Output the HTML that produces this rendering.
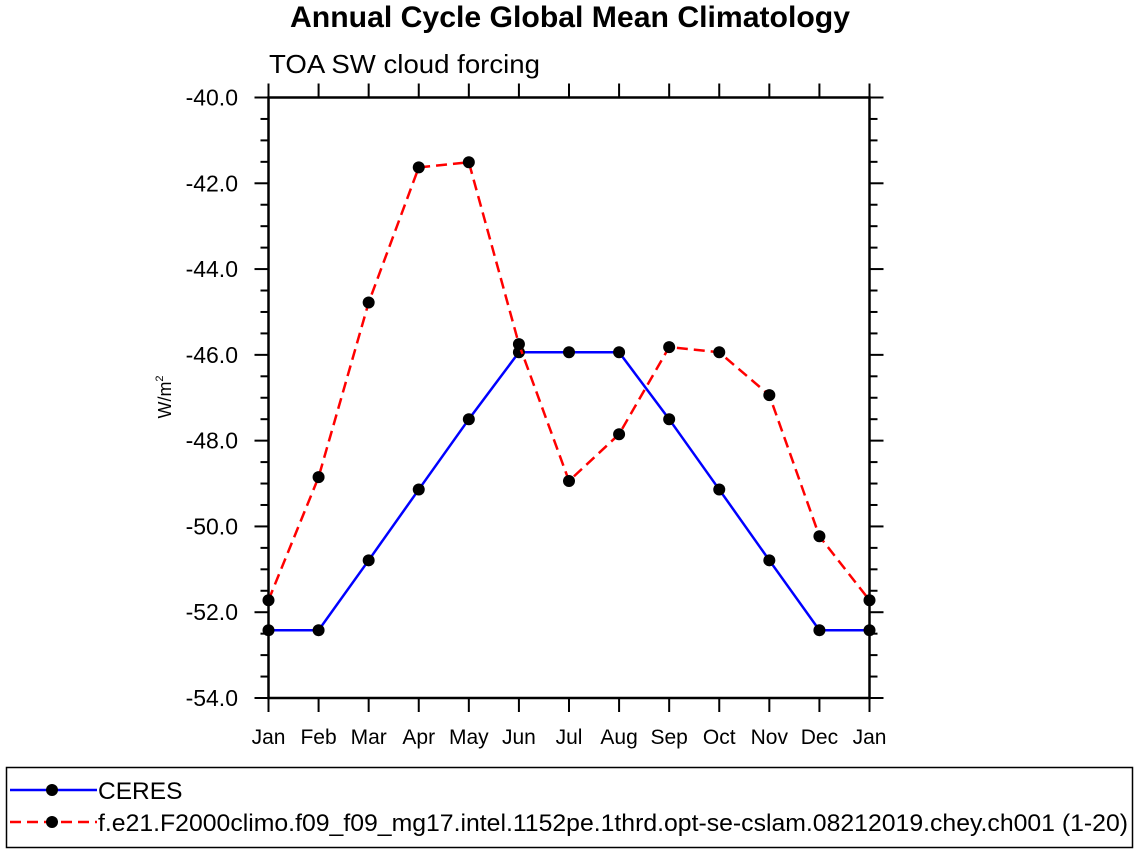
<!DOCTYPE html>
<html><head><meta charset="utf-8"><style>
body{margin:0;background:#fff;}
svg text{font-family:"Liberation Sans",sans-serif;fill:#000;}
</style></head><body>
<svg id="chart" width="1138" height="854" xmlns="http://www.w3.org/2000/svg">
<text x="570" y="27" font-size="30" font-weight="bold" text-anchor="middle" textLength="560" lengthAdjust="spacingAndGlyphs">Annual Cycle Global Mean Climatology</text>
<text x="269" y="73" font-size="26" textLength="271" lengthAdjust="spacingAndGlyphs">TOA SW cloud forcing</text>
<text transform="translate(171,397) rotate(-90)" font-size="18" text-anchor="middle">W/m<tspan font-size="11" dy="-8">2</tspan></text>
<g id="axes"></g>
<g id="series"></g>
<g>
<rect x="6.5" y="767.5" width="1126" height="80" fill="none" stroke="#000" stroke-width="1.5"/>
<g>
<line x1="10" y1="790" x2="97" y2="790" stroke="#0000ff" stroke-width="2.5"/>
<circle cx="52" cy="790" r="6" fill="#000"/>
<text x="98" y="799" font-size="24.5">CERES</text>
</g>
<g>
<line x1="10" y1="822" x2="97" y2="822" stroke="#ff0000" stroke-width="2.5" stroke-dasharray="11,6"/>
<circle cx="52" cy="822" r="6" fill="#000"/>
<text x="98" y="831" font-size="24.5" textLength="1030" lengthAdjust="spacingAndGlyphs">f.e21.F2000climo.f09_f09_mg17.intel.1152pe.1thrd.opt-se-cslam.08212019.chey.ch001 (1-20)</text>
</g>
</g>
</svg>
<script>
const months = ["Jan","Feb","Mar","Apr","May","Jun","Jul","Aug","Sep","Oct","Nov","Dec","Jan"];
const ceres = [-52.42,-52.42,-50.79,-49.14,-47.5,-45.94,-45.94,-45.94,-47.5,-49.14,-50.79,-52.42,-52.42];
const model = [-51.72,-48.85,-44.78,-41.63,-41.51,-45.75,-48.94,-47.85,-45.82,-45.94,-46.94,-50.23,-51.72];
const yTicks = [-40,-42,-44,-46,-48,-50,-52,-54];
const yTickLabels = ["-40.0","-42.0","-44.0","-46.0","-48.0","-50.0","-52.0","-54.0"];
const NS="http://www.w3.org/2000/svg";
const L=268.5,R=869.5,T=97.5,B=698,yMin=-54,yMax=-40;
const xs=i=>L+(R-L)*i/(months.length-1);
const ys=v=>T+(yMax-v)/(yMax-yMin)*(B-T);
function mk(tag,attrs,parent){const e=document.createElementNS(NS,tag);for(const k in attrs)e.setAttribute(k,attrs[k]);parent.appendChild(e);return e;}
const ax=document.getElementById('axes');
const frame=mk('rect',{x:L,y:T,width:R-L,height:B-T,fill:'none',stroke:'#000','stroke-width':2.5},ax);


months.forEach((m,i)=>{
  const x=xs(i);
  const t1=mk('line',{x1:x,y1:B,x2:x,y2:B+14,stroke:'#000','stroke-width':2},ax);
  
  
  const t2=mk('line',{x1:x,y1:T,x2:x,y2:T-14,stroke:'#000','stroke-width':2},ax);
  
  
  const lb=mk('text',{x:x,y:744,'font-size':21,'text-anchor':'middle'},ax);lb.textContent=m;
  
  
});
for(let v=yMin;v<=yMax+1e-9;v+=0.5){
  const y=ys(v);const major=Math.abs(v/2-Math.round(v/2))<1e-6;const len=major?14:8;
  const a=mk('line',{x1:L,y1:y,x2:L-len,y2:y,stroke:'#000','stroke-width':2},ax);
  
  
  const b=mk('line',{x1:R,y1:y,x2:R+len,y2:y,stroke:'#000','stroke-width':2},ax);
  
  
}
yTicks.forEach((v,i)=>{
  const lb=mk('text',{x:238,y:ys(v)+8,'font-size':23,'text-anchor':'end'},ax);lb.textContent=yTickLabels[i];
  
  
});
const sg=document.getElementById('series');
function draw(vals,color,dash,name){
  const pts=vals.map((v,i)=>xs(i)+','+ys(v)).join(' ');
  const pl=mk('polyline',{points:pts,fill:'none',stroke:color,'stroke-width':2.5},sg);
  if(dash)pl.setAttribute('stroke-dasharray',dash);
  
  
  vals.forEach((v,i)=>{
    const c=mk('circle',{cx:xs(i),cy:ys(v),r:6,fill:'#000'},sg);
    
    
  });
}
draw(ceres,'#0000ff',null,'ceres');
draw(model,'#ff0000','11,6','model');
</script>
</body></html>
